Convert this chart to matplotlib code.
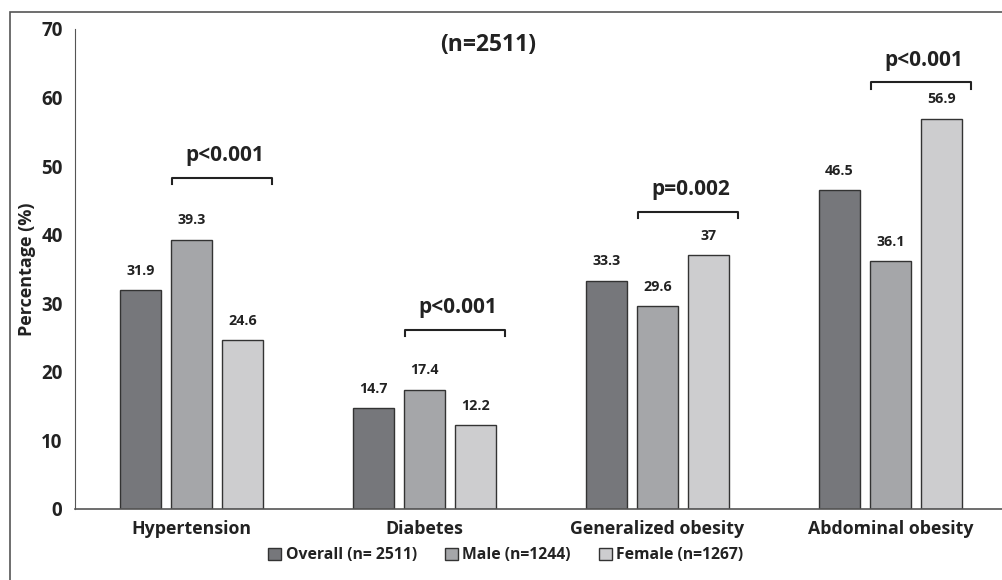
from matplotlib import pyplot as plt
from matplotlib.patches import Rectangle
import numpy as np

categories = ['Hypertension', 'Diabetes', 'Generalized obesity', 'Abdominal obesity']
overall = [31.9, 14.7, 33.3, 46.5]
male = [39.3, 17.4, 29.6, 36.1]
female = [24.6, 12.2, 37.0, 56.9]
value_labels = [['31.9', '39.3', '24.6'], ['14.7', '17.4', '12.2'],
                ['33.3', '29.6', '37'], ['46.5', '36.1', '56.9']]
series_names = ['Overall (n= 2511)', 'Male (n=1244)', 'Female (n=1267)']
p_texts = ['p<0.001', 'p<0.001', 'p=0.002', 'p<0.001']
bracket_y = [48.3, 26.1, 43.3, 62.2]

plt.rcParams['font.family'] = ['Open Sans', 'DejaVu Sans']
plt.rcParams['font.weight'] = 'bold'

fig = plt.figure(figsize=(10.03, 5.8), dpi=100)
ax = fig.add_axes([75 / 1003, 1 - 509 / 580, 932 / 1003, 480 / 580])

# outer frame
fig.patches.append(Rectangle((10 / 1003, -0.1), 1.2, 1 - 12 / 580 + 0.1,
                             transform=fig.transFigure, fill=False,
                             edgecolor='#555555', linewidth=1.2))

colors = ['#76777b', '#a5a6a9', '#cdcdcf']
ind = np.arange(len(categories))
width = 0.176
step = 0.219
for i, vals in enumerate([overall, male, female]):
    ax.bar(ind + (i - 1) * step, vals, width, color=colors[i],
           edgecolor='#333333', linewidth=1.0, label=series_names[i])
    for j, v in enumerate(vals):
        ax.text(ind[j] + (i - 1) * step, v + 1.8, value_labels[j][i],
                ha='center', va='bottom', fontsize=10.3, fontweight='bold',
                color='#222222')

# significance brackets
for j in range(len(categories)):
    x0 = ind[j] - 0.082
    x1 = ind[j] + 0.347
    y = bracket_y[j]
    ax.plot([x0, x0, x1, x1], [y - 0.9, y, y, y - 0.9], color='#222222',
            linewidth=1.5, clip_on=False)
    ax.text((x0 + x1) / 2 + 0.01, y + 1.7, p_texts[j], ha='center', va='bottom',
            fontsize=15, fontweight='bold', color='#222222')

ax.text(1.275, 67.6, '(n=2511)', ha='center', va='center', fontsize=16.5,
        fontweight='bold', color='#222222')

ax.set_xlim(-0.5, 3.5)
ax.set_ylim(0, 70)
ax.set_yticks(range(0, 80, 10))
ax.set_xticks(ind)
ax.set_xticklabels(categories, fontsize=12.8, fontweight='bold', color='#222222')
ax.tick_params(axis='both', length=0)
ax.tick_params(axis='y', labelsize=13.5, pad=9, labelcolor='#222222')
ax.tick_params(axis='x', pad=8)
ax.set_ylabel('Percentage (%)', fontsize=13, fontweight='bold', color='#222222',
              labelpad=4)
for s in ['top', 'right']:
    ax.spines[s].set_visible(False)
ax.spines['left'].set_color('#555555')
ax.spines['bottom'].set_color('#555555')
ax.spines['bottom'].set_linewidth(1.2)

leg = fig.legend(loc='center', bbox_to_anchor=(506 / 1003, 1 - 555 / 580), ncol=3,
                 frameon=False, fontsize=11.3, handlelength=0.8, handleheight=0.8,
                 handletextpad=0.3, columnspacing=1.8)
for t in leg.get_texts():
    t.set_fontweight('bold')
    t.set_color('#222222')

plt.savefig('out.png', dpi=100)
